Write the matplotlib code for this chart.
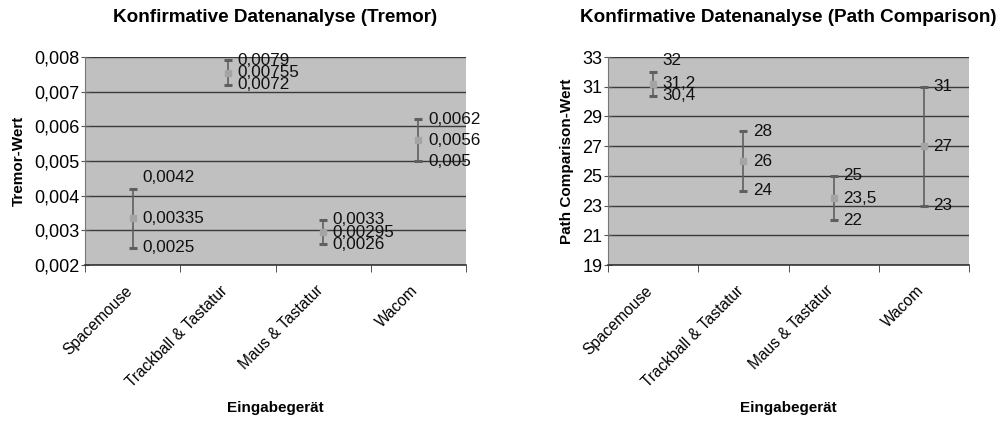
import matplotlib
matplotlib.use("Agg")
import matplotlib.pyplot as plt
from matplotlib.ticker import FuncFormatter, FixedLocator
import matplotlib.transforms as mtransforms
import numpy as np

plt.rcParams['font.family'] = ['Liberation Sans', 'DejaVu Sans']

categories = ["Spacemouse", "Trackball & Tastatur", "Maus & Tastatur", "Wacom"]

tremor_low = [0.0025, 0.0072, 0.0026, 0.005]
tremor_mean = [0.00335, 0.00755, 0.00295, 0.0056]
tremor_high = [0.0042, 0.0079, 0.0033, 0.0062]
tremor_ticks = [0.002, 0.003, 0.004, 0.005, 0.006, 0.007, 0.008]

path_low = [30.4, 24, 22, 23]
path_mean = [31.2, 26, 23.5, 27]
path_high = [32, 28, 25, 31]
path_ticks = [19, 21, 23, 25, 27, 29, 31, 33]

titles = ["Konfirmative Datenanalyse (Tremor)", "Konfirmative Datenanalyse (Path Comparison)"]
ylabels = ["Tremor-Wert", "Path Comparison-Wert"]
xlabel = "Eingabegerät"


def fmt(v):
    return f"{v:g}".replace('.', ',')


fig = plt.figure(figsize=(10.02, 4.21), dpi=100)
W, H = 1002, 421
ax1 = fig.add_axes([85 / W, (H - 265) / H, 381 / W, 208 / H])
ax2 = fig.add_axes([608 / W, (H - 265) / H, 361 / W, 208 / H])

configs = [
    (ax1, tremor_low, tremor_mean, tremor_high, tremor_ticks, {0: 8}),
    (ax2, path_low, path_mean, path_high, path_ticks, {0: 8}),
]

for i, (ax, lo, mn, hi, ticks, high_nudge) in enumerate(configs):
    x = np.arange(len(categories))
    ax.set_facecolor('#c0c0c0')
    lo_a, mn_a, hi_a = np.array(lo), np.array(mn), np.array(hi)
    ax.errorbar(x, mn_a, yerr=[mn_a - lo_a, hi_a - mn_a], fmt='none',
                ecolor='#5f5f5f', elinewidth=1.2, capsize=2.6, capthick=2.2, zorder=3)
    ax.plot(x, mn_a, 's', color='#a4a4a4', markersize=4, zorder=4)
    for j in range(len(categories)):
        for k, v in enumerate([hi[j], mn[j], lo[j]]):
            dy = high_nudge.get(j, 0) if k == 0 else 0
            ax.annotate(fmt(v), (x[j], v), xytext=(7, dy), textcoords='offset points',
                        ha='left', va='center', fontsize=12.3, color='#111111', zorder=5)
    ax.set_xlim(-0.5, len(categories) - 0.5)
    ax.set_ylim(ticks[0], ticks[-1])
    ax.set_yticks(ticks)
    ax.yaxis.set_major_formatter(FuncFormatter(lambda v, p: fmt(round(v, 6))))
    ax.grid(axis='y', color='#3a3a3a', linewidth=1.0, zorder=1)
    ax.set_axisbelow(True)
    ax.set_xticks(x)
    ax.set_xticklabels(categories, rotation=45, ha='right', rotation_mode='anchor',
                       fontsize=11.2)
    ax.tick_params(axis='x', length=0, pad=10)
    offset = mtransforms.ScaledTranslation(-8 / 100, -4 / 100, fig.dpi_scale_trans)
    for lab in ax.get_xticklabels():
        lab.set_transform(lab.get_transform() + offset)
    ax.xaxis.set_minor_locator(FixedLocator(np.arange(-0.5, len(categories), 1.0)))
    ax.tick_params(axis='x', which='minor', length=5, color='#333333')
    ax.tick_params(axis='y', direction='inout', length=6, color='#555555',
                   labelsize=13, pad=1)
    for s in ['top', 'right']:
        ax.spines[s].set_visible(False)
    ax.spines['left'].set_color('#777777')
    ax.spines['bottom'].set_color('#333333')
    ax.spines['bottom'].set_linewidth(1.2)
    ax.set_title(titles[i], fontsize=13.6, fontweight='bold', pad=25)
    ax.set_ylabel(ylabels[i], fontsize=11, fontweight='bold', labelpad=6)
    ax.set_xlabel(xlabel, fontsize=11, fontweight='bold')
    ax.xaxis.set_label_coords(0.5, -(401 - 265) / 208)

fig.savefig('out.png', dpi=100)
